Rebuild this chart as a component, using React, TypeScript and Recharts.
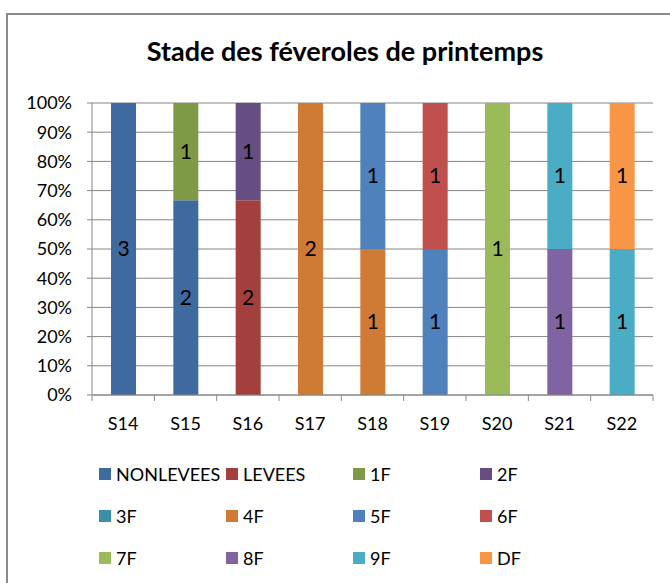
import { BarChart, Bar, XAxis, YAxis, CartesianGrid, LabelList } from "recharts";

// semaines (axe X)
const WEEKS = ["S14", "S15", "S16", "S17", "S18", "S19", "S20", "S21", "S22"];

// nombre de parcelles par stade et par semaine
const NONLEVEES = [3, 2, 0, 0, 0, 0, 0, 0, 0];
const LEVEES = [0, 0, 2, 0, 0, 0, 0, 0, 0];
const F1 = [0, 1, 0, 0, 0, 0, 0, 0, 0];
const F2 = [0, 0, 1, 0, 0, 0, 0, 0, 0];
const F3 = [0, 0, 0, 0, 0, 0, 0, 0, 0];
const F4 = [0, 0, 0, 2, 1, 0, 0, 0, 0];
const F5 = [0, 0, 0, 0, 1, 1, 0, 0, 0];
const F6 = [0, 0, 0, 0, 0, 1, 0, 0, 0];
const F7 = [0, 0, 0, 0, 0, 0, 1, 0, 0];
const F8 = [0, 0, 0, 0, 0, 0, 0, 1, 0];
const F9 = [0, 0, 0, 0, 0, 0, 0, 1, 1];
const DF = [0, 0, 0, 0, 0, 0, 0, 0, 1];

const SERIES_NAMES = ["NONLEVEES", "LEVEES", "1F", "2F", "3F", "4F", "5F", "6F", "7F", "8F", "9F", "DF"];
const SERIES_VALUES = [NONLEVEES, LEVEES, F1, F2, F3, F4, F5, F6, F7, F8, F9, DF];
const COLORS = [
  "#3F6A9F", "#A3403D", "#7E9A47", "#664D82", "#3A8FA6", "#CF7B36",
  "#4F81BD", "#C0504D", "#9BBB59", "#8064A2", "#4BACC6", "#F79646",
];

const Y_TICKS = [0, 0.1, 0.2, 0.3, 0.4, 0.5, 0.6, 0.7, 0.8, 0.9, 1];

const data = WEEKS.map((week, i) => {
  const row: Record<string, string | number> = { week };
  SERIES_NAMES.forEach((name, s) => {
    row[name] = SERIES_VALUES[s][i];
  });
  return row;
});

const FONT = "Lato, 'Open Sans', sans-serif";
const AXIS = "#868686";
const CHART_W = 670;
const MARGIN = { top: 103, right: 17, bottom: 15, left: 0 };
const Y_W = 92;
const CAT_W = (CHART_W - Y_W - MARGIN.right) / WEEKS.length;

function XTick(props: any) {
  const { x, y, payload, index } = props;
  const axisY = y - 28;
  return (
    <g>
      <line x1={x - CAT_W / 2} x2={x - CAT_W / 2} y1={axisY} y2={axisY + 6} stroke={AXIS} />
      {index === WEEKS.length - 1 && (
        <line x1={x + CAT_W / 2} x2={x + CAT_W / 2} y1={axisY} y2={axisY + 6} stroke={AXIS} />
      )}
      <text x={x} y={y} textAnchor="middle" dominantBaseline="central" fill="#000" fontSize={18} fontFamily={FONT}>
        {payload.value}
      </text>
    </g>
  );
}

export default function App() {
  return (
    <div style={{ position: "absolute", left: 0, top: 0, width: 670, height: 583, overflow: "hidden", background: "#fff" }}>
      <div
        style={{
          position: "absolute",
          left: 6,
          top: 13,
          width: 700,
          height: 620,
          border: "2px solid #8a8a8a",
          boxSizing: "border-box",
        }}
      />
      <div
        style={{
          position: "absolute",
          left: 0,
          width: 690,
          top: 34,
          textAlign: "center",
          fontFamily: FONT,
          fontWeight: 700,
          fontSize: 27,
          color: "#000",
        }}
      >
        Stade des féveroles de printemps
      </div>
      <div style={{ position: "absolute", left: 0, top: 0 }}>
        <BarChart width={CHART_W} height={440} data={data} stackOffset="expand" margin={MARGIN} barSize={25}>
          <CartesianGrid vertical={false} stroke={AXIS} />
          <XAxis
            dataKey="week"
            height={30}
            axisLine={{ stroke: AXIS }}
            tickLine={false}
            tickSize={5}
            tickMargin={23}
            tick={<XTick />}
            interval={0}
          />
          <YAxis
            width={Y_W}
            domain={[0, 1]}
            ticks={Y_TICKS}
            tickFormatter={(v: number) => `${Math.round(v * 100)}%`}
            axisLine={{ stroke: AXIS }}
            tickLine={{ stroke: AXIS }}
            tickSize={5}
            tickMargin={15}
            tick={{ fill: "#000", fontSize: 18, fontFamily: FONT }}
          />
          {SERIES_NAMES.map((name, s) => (
            <Bar key={name} dataKey={name} stackId="a" fill={COLORS[s]} isAnimationActive={false}>
              <LabelList
                dataKey={name}
                position="center"
                fill="#000"
                fontSize={21}
                fontFamily={FONT}
                formatter={(v: any) => (v ? v : "")}
              />
            </Bar>
          ))}
        </BarChart>
      </div>
      {SERIES_NAMES.map((name, s) => {
        const col = s % 4;
        const row = Math.floor(s / 4);
        return (
          <div
            key={name}
            style={{
              position: "absolute",
              left: 99 + col * 127,
              top: 474 + row * 42 - 10,
              height: 20,
              display: "flex",
              alignItems: "center",
              fontFamily: FONT,
              fontSize: 18,
              color: "#000",
              whiteSpace: "nowrap",
            }}
          >
            <span style={{ display: "inline-block", width: 12, height: 12, background: COLORS[s], marginRight: 5 }} />
            {name}
          </div>
        );
      })}
    </div>
  );
}
